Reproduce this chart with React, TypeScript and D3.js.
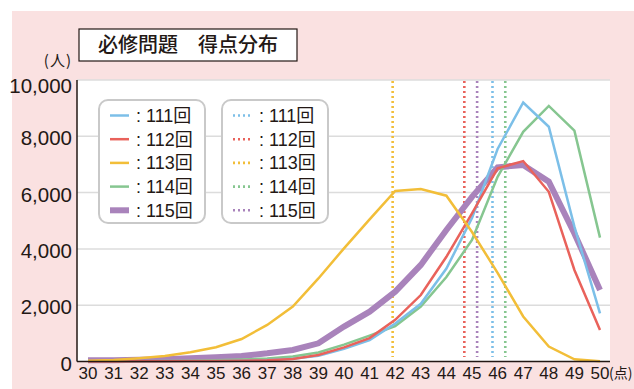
import React, { useEffect, useRef } from 'react';
import * as d3 from 'd3';

// 得点 (x axis)
const scores = [30, 31, 32, 33, 34, 35, 36, 37, 38, 39, 40, 41, 42, 43, 44, 45, 46, 47, 48, 49, 50];
const yTicks = [0, 2000, 4000, 6000, 8000, 10000];

// 人数 per score
const exam111 = [0, 0, 5, 10, 15, 20, 30, 50, 100, 200, 450, 760, 1350, 2050, 3300, 5100, 7550, 9200, 8340, 4790, 1710];
const exam112 = [0, 0, 5, 10, 15, 20, 25, 45, 90, 230, 500, 830, 1480, 2360, 3720, 5260, 6860, 7120, 6030, 3250, 1120];
const exam113 = [30, 55, 115, 195, 325, 505, 800, 1300, 1950, 2950, 4020, 5050, 6060, 6130, 5890, 4600, 3150, 1600, 530, 80, 10];
const exam114 = [0, 5, 10, 15, 25, 40, 70, 110, 180, 320, 600, 920, 1260, 1950, 3000, 4320, 6560, 8160, 9080, 8200, 4400];
const exam115 = [40, 45, 60, 80, 115, 150, 195, 290, 410, 645, 1240, 1770, 2480, 3430, 4670, 5850, 6900, 6980, 6390, 4550, 2540];

// 平均点 (dotted lines)
const averages = [45.8, 44.7, 41.9, 46.3, 45.2];

const examNames = ['111回', '112回', '113回', '114回', '115回'];
const colors = ['#7cbfe8', '#e9625b', '#f2be38', '#86c690', '#a983bb'];
const widths = [2.5, 2.5, 2.5, 2.5, 6];

const W = 634;
const H = 389;

export default function App() {
  const ref = useRef<SVGSVGElement>(null);

  useEffect(() => {
    const svg = d3.select(ref.current);
    svg.selectAll('*').remove();

    const series = [exam111, exam112, exam113, exam114, exam115];

    const x = d3.scaleLinear().domain([30, 50]).range([88, 600]);
    const y = d3.scaleLinear().domain([0, 10000]).range([361.5, 80]);
    const plotLeft = 77;
    const plotRight = 610;

    // background
    svg.append('rect').attr('x', 12).attr('y', 11).attr('width', W - 12).attr('height', H - 11)
      .attr('fill', '#fae1e1');
    svg.append('rect').attr('x', plotLeft).attr('y', y(10000)).attr('width', plotRight - plotLeft)
      .attr('height', y(0) - y(10000)).attr('fill', '#fff');

    // gridlines
    svg.append('g').selectAll('line')
      .data(yTicks.filter(d => d > 0))
      .enter().append('line')
      .attr('x1', plotLeft).attr('x2', plotRight)
      .attr('y1', d => y(d)).attr('y2', d => y(d))
      .attr('stroke', '#dcdcdc').attr('stroke-width', 1.5);

    // y tick labels (top one sits a little lower, as in the original)
    svg.append('g').selectAll('text')
      .data(yTicks)
      .enter().append('text')
      .text(d => d3.format(',')(d))
      .attr('x', 72).attr('y', d => Math.max(y(d) + 9, 93))
      .attr('text-anchor', 'end')
      .attr('font-family', '"Liberation Sans Narrow", "Liberation Sans", sans-serif')
      .attr('font-size', 20.5).attr('fill', '#231815');

    // x tick labels
    svg.append('g').selectAll('text')
      .data(scores)
      .enter().append('text')
      .text(d => d)
      .attr('x', d => x(d)).attr('y', 379)
      .attr('text-anchor', 'middle')
      .attr('font-family', '"Liberation Sans Narrow", "Liberation Sans", sans-serif')
      .attr('font-size', 17).attr('fill', '#231815');

    svg.append('text').text('(点)')
      .attr('x', 609).attr('y', 378)
      .attr('font-family', '"Noto Sans CJK JP", sans-serif')
      .attr('font-size', 14).attr('fill', '#231815');

    svg.append('text').text('(人)')
      .attr('x', 72).attr('y', 66).attr('text-anchor', 'end')
      .attr('font-family', '"Noto Sans CJK JP", sans-serif')
      .attr('font-size', 15).attr('letter-spacing', 1).attr('fill', '#231815');

    // average score lines, behind the curves
    svg.append('g').selectAll('line')
      .data(averages)
      .enter().append('line')
      .attr('x1', d => x(d)).attr('x2', d => x(d))
      .attr('y1', y(10000) + 1).attr('y2', 357)
      .attr('stroke', (d, i) => colors[i])
      .attr('stroke-width', 2.6)
      .attr('stroke-dasharray', '2,3');

    // curves
    const line = d3.line<number>()
      .x((d, i) => x(scores[i]))
      .y(d => y(d));
    const order = [4, 3, 0, 1, 2];
    svg.append('g').selectAll('path')
      .data(order)
      .enter().append('path')
      .attr('d', i => line(series[i]))
      .attr('fill', 'none')
      .attr('stroke', i => colors[i])
      .attr('stroke-width', i => widths[i])
      .attr('stroke-linejoin', 'miter');

    // axes
    svg.append('line').attr('x1', plotLeft).attr('x2', plotLeft)
      .attr('y1', y(10000)).attr('y2', y(0))
      .attr('stroke', '#231815').attr('stroke-width', 1.5);
    svg.append('line').attr('x1', plotLeft).attr('x2', plotRight)
      .attr('y1', y(0)).attr('y2', y(0))
      .attr('stroke', '#231815').attr('stroke-width', 1.5);

    // title box
    svg.append('rect').attr('x', 79).attr('y', 29).attr('width', 218).attr('height', 32)
      .attr('fill', '#fff').attr('stroke', '#231815').attr('stroke-width', 1.2);
    svg.append('text').text('必修問題　得点分布')
      .attr('x', 188).attr('y', 52).attr('text-anchor', 'middle')
      .attr('font-family', '"Noto Sans CJK JP", sans-serif')
      .attr('font-weight', 500)
      .attr('font-size', 20).attr('fill', '#231815');

    // legends: solid = 得点分布, dotted = 平均点
    const legendX = [99, 222];
    legendX.forEach((lx, k) => {
      const g = svg.append('g');
      g.append('rect').attr('x', lx).attr('y', 100).attr('width', 106).attr('height', 123)
        .attr('rx', 9).attr('fill', '#fff').attr('stroke', '#c9c9c9').attr('stroke-width', 2);
      const rows = g.selectAll('g')
        .data(examNames)
        .enter().append('g')
        .attr('transform', (d, i) => `translate(${lx}, ${115.5 + i * 23.7})`);
      rows.append('line')
        .attr('x1', 11).attr('x2', 30).attr('y1', 0).attr('y2', 0)
        .attr('stroke', (d, i) => colors[i])
        .attr('stroke-width', (d, i) => (k === 0 ? widths[i] : 2.6))
        .attr('stroke-dasharray', k === 0 ? null : '2,3');
      rows.append('text')
        .text(d => ': ' + d)
        .attr('x', 37).attr('y', 6.5)
        .attr('font-family', '"Liberation Sans", "Noto Sans CJK JP", sans-serif')
        .attr('font-size', 18).attr('fill', '#231815');
    });
  }, []);

  return (
    <svg ref={ref} width={W} height={H} style={{ position: 'absolute', left: 0, top: 0 }} />
  );
}
